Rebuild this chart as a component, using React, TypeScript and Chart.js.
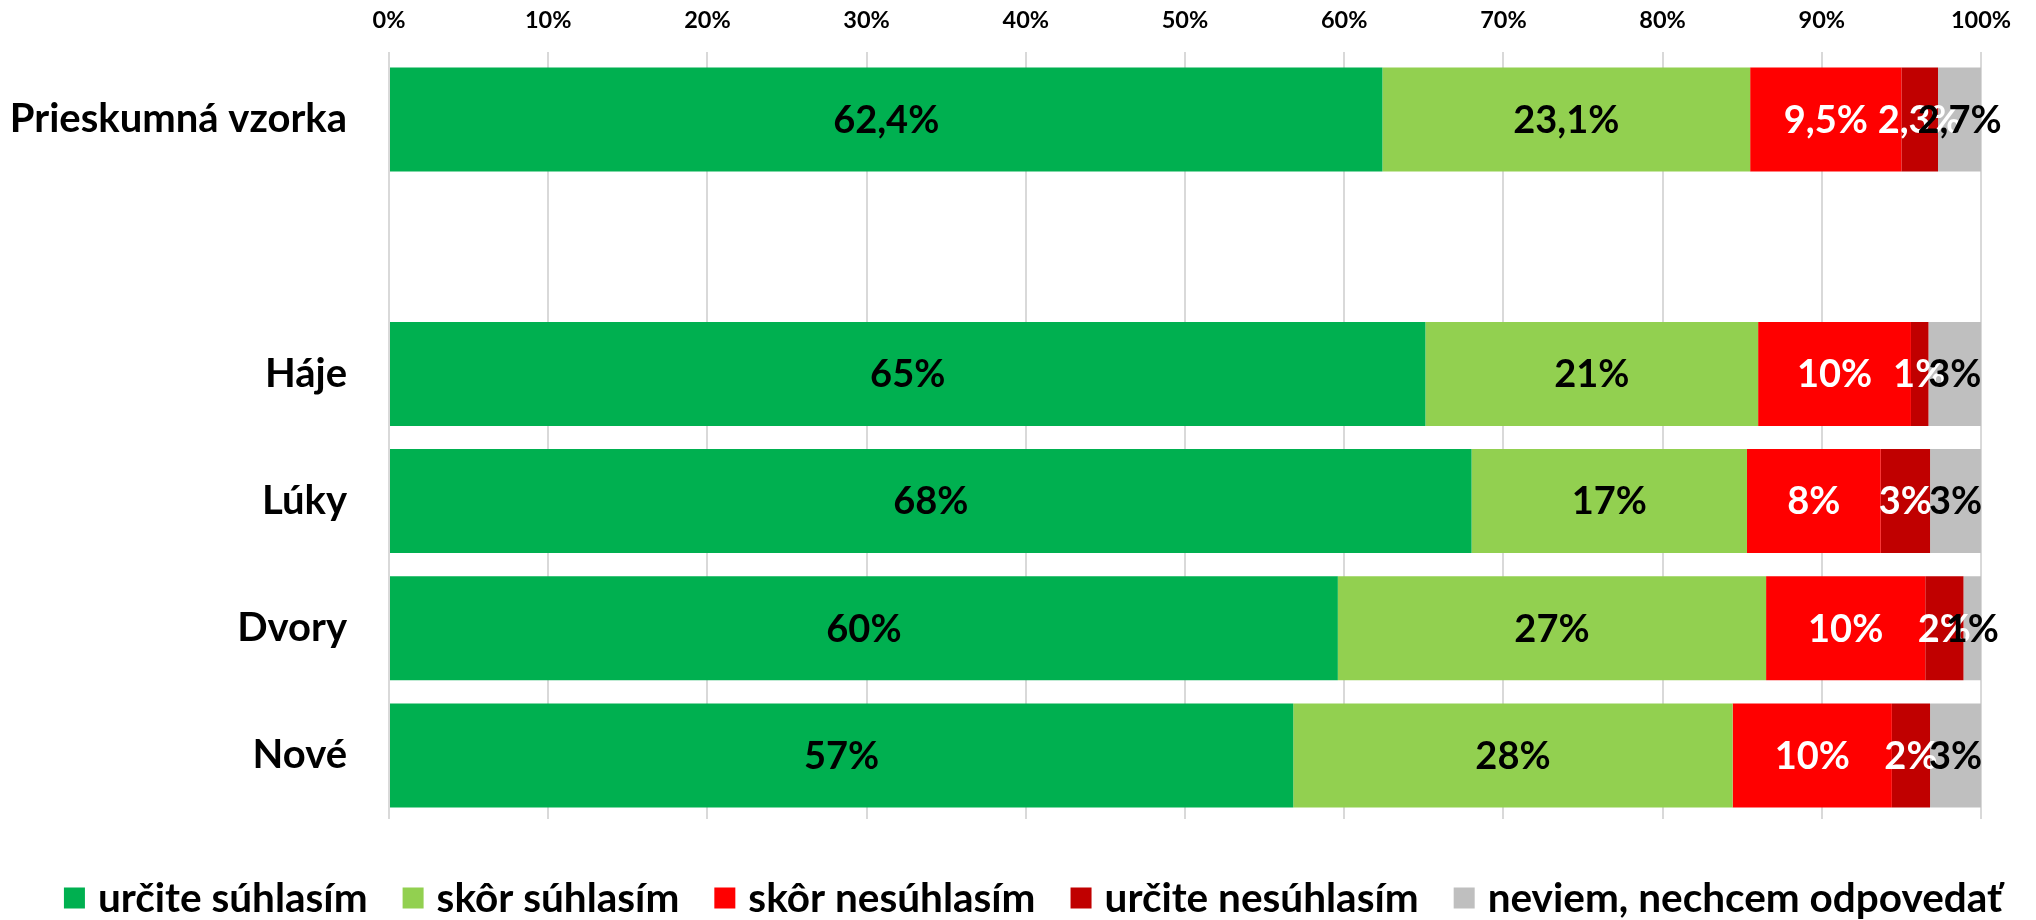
import React, { useEffect, useRef } from 'react';
import { Chart, registerables } from 'chart.js';

Chart.register(...registerables);

// ---- data ----
const categories = ['Prieskumná vzorka', '', 'Háje', 'Lúky', 'Dvory', 'Nové'];
const seriesNames = [
  'určite súhlasím',
  'skôr súhlasím',
  'skôr nesúhlasím',
  'určite nesúhlasím',
  'neviem, nechcem odpovedať',
];
const urciteSuhlasim = [62.4, null, 65.1, 68.0, 59.6, 56.8];
const skorSuhlasim = [23.1, null, 20.9, 17.3, 26.9, 27.6];
const skorNesuhlasim = [9.5, null, 9.6, 8.4, 10.0, 10.0];
const urciteNesuhlasim = [2.3, null, 1.1, 3.1, 2.4, 2.4];
const neviem = [2.7, null, 3.3, 3.2, 1.1, 3.2];
const xTickValues = [0, 10, 20, 30, 40, 50, 60, 70, 80, 90, 100];

// ---- styles ----
const FONT = 'Lato';
const seriesColors = ['#00B050', '#92D050', '#FF0000', '#C00000', '#BFBFBF'];
const labelColors = ['#000000', '#000000', '#FFFFFF', '#FFFFFF', '#000000'];
const LABEL_SIZE = 38;
const LEGEND_SIZE = 40.5;

const segmentLabels = {
  id: 'segmentLabels',
  afterDatasetsDraw(chart: any) {
    const ctx = chart.ctx;
    ctx.save();
    ctx.font = `bold ${LABEL_SIZE}px ${FONT}`;
    ctx.textAlign = 'center';
    ctx.textBaseline = 'middle';
    chart.data.datasets.forEach((ds: any, di: number) => {
      const meta = chart.getDatasetMeta(di);
      meta.data.forEach((el: any, i: number) => {
        const v = ds.data[i];
        if (v == null) return;
        const p = el.getProps(['x', 'y', 'base'], true);
        const txt =
          i === 0 ? v.toFixed(1).replace('.', ',') + '%' : Math.round(v) + '%';
        ctx.fillStyle = labelColors[di];
        ctx.fillText(txt, (p.x + p.base) / 2, p.y + 1);
      });
    });
    ctx.restore();
  },
};

const bottomLegend = {
  id: 'bottomLegend',
  afterDraw(chart: any) {
    const ctx = chart.ctx;
    ctx.save();
    ctx.font = `bold ${LEGEND_SIZE}px ${FONT}`;
    ctx.textBaseline = 'middle';
    ctx.textAlign = 'left';
    const box = 21;
    const gapBoxText = 13;
    const gapItems = 35;
    const widths = seriesNames.map((n) => ctx.measureText(n).width);
    const total =
      widths.reduce((a, w) => a + box + gapBoxText + w, 0) +
      gapItems * (widths.length - 1);
    let x = (chart.width - total) / 2 + 15;
    const yc = chart.height - 22;
    seriesNames.forEach((n, i) => {
      ctx.fillStyle = seriesColors[i];
      ctx.fillRect(x, yc - box / 2, box, box);
      ctx.fillStyle = '#000';
      ctx.fillText(n, x + box + gapBoxText, yc + 1);
      x += box + gapBoxText + widths[i] + gapItems;
    });
    ctx.restore();
  },
};

export default function App() {
  const ref = useRef<HTMLCanvasElement | null>(null);

  useEffect(() => {
    document.body.style.margin = '0';
    const canvas = ref.current;
    if (!canvas) return;
    const seriesData = [
      urciteSuhlasim,
      skorSuhlasim,
      skorNesuhlasim,
      urciteNesuhlasim,
      neviem,
    ];
    const chart = new Chart(canvas, {
      type: 'bar',
      data: {
        labels: categories,
        datasets: seriesNames.map((name, i) => ({
          label: name,
          data: seriesData[i] as any,
          backgroundColor: seriesColors[i],
          borderWidth: 0,
          barPercentage: 0.818,
          categoryPercentage: 1,
        })),
      },
      options: {
        indexAxis: 'y',
        responsive: false,
        animation: false,
        devicePixelRatio: 1,
        layout: { padding: { top: 0, left: 0, right: 55, bottom: 101 } },
        plugins: {
          legend: { display: false },
          tooltip: { enabled: false },
        },
        scales: {
          x: {
            position: 'top',
            stacked: true,
            min: 0,
            max: 100,
            afterBuildTicks: (s: any) => {
              s.ticks = xTickValues.map((v) => ({ value: v }));
            },
            afterFit: (s: any) => {
              s.height = 56;
            },
            ticks: {
              callback: (v: any) => v + '%',
              color: '#000',
              padding: 17.5,
              font: { family: FONT, size: 23.5, weight: 'bold' },
            },
            grid: {
              color: '#D9D9D9',
              lineWidth: 2,
              drawTicks: true,
              tickLength: 4,
            },
            border: { display: false },
          },
          y: {
            stacked: true,
            afterFit: (s: any) => {
              s.width = 389;
            },
            ticks: {
              color: '#000',
              padding: 34,
              font: { family: FONT, size: 40, weight: 'bold', lineHeight: 0.8 },
            },
            grid: { display: false },
            border: { display: false },
          },
        },
      },
      plugins: [segmentLabels, bottomLegend],
    });
    return () => chart.destroy();
  }, []);

  return (
    <div style={{ width: 2036, height: 920 }}>
      <canvas ref={ref} width={2036} height={920} />
    </div>
  );
}
